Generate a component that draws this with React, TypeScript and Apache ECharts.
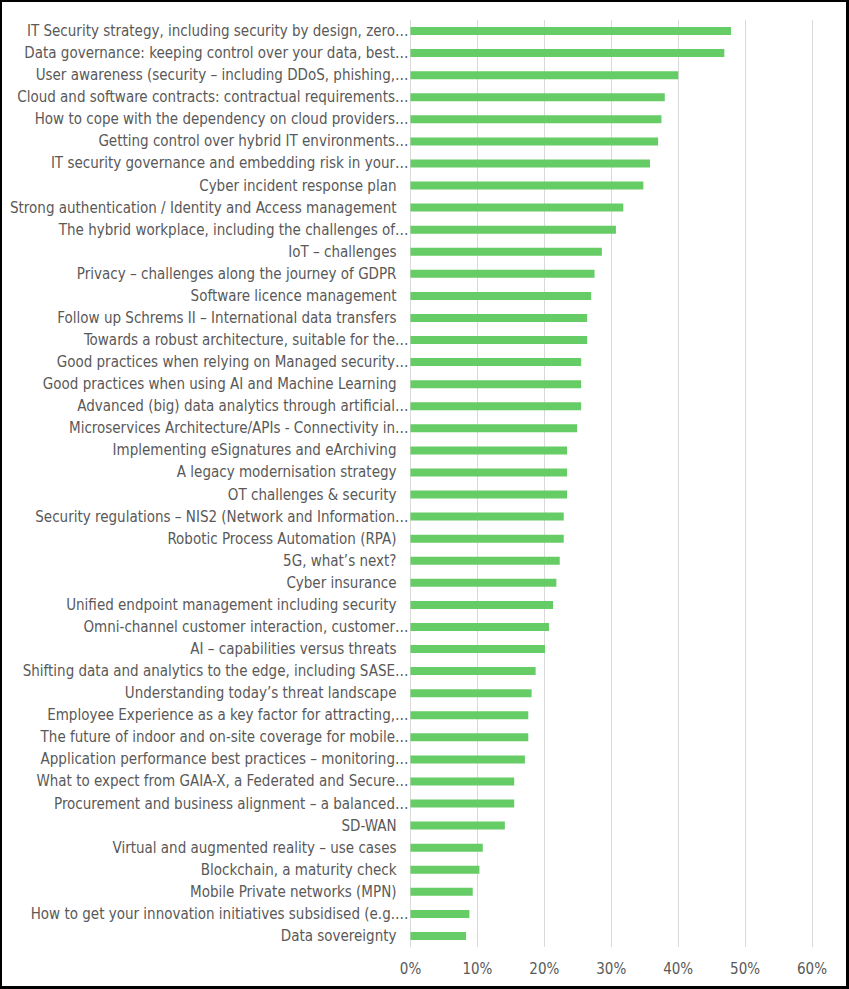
import React, { useEffect, useRef } from "react";
import * as echarts from "echarts";

const categories: string[] = [
  "IT Security strategy, including security by design, zero…",
  "Data governance: keeping control over your data, best…",
  "User awareness (security – including DDoS, phishing,…",
  "Cloud and software contracts: contractual requirements…",
  "How to cope with the dependency on cloud providers…",
  "Getting control over hybrid IT environments…",
  "IT security governance and embedding risk in your…",
  "Cyber incident response plan",
  "Strong authentication / Identity and Access management",
  "The hybrid workplace, including the challenges of…",
  "IoT – challenges",
  "Privacy – challenges along the journey of GDPR",
  "Software licence management",
  "Follow up Schrems II – International data transfers",
  "Towards a robust architecture, suitable for the…",
  "Good practices when relying on Managed security…",
  "Good practices when using AI and Machine Learning",
  "Advanced (big) data analytics through artificial…",
  "Microservices Architecture/APIs - Connectivity in…",
  "Implementing eSignatures and eArchiving",
  "A legacy modernisation strategy",
  "OT challenges & security",
  "Security regulations – NIS2 (Network and Information…",
  "Robotic Process Automation (RPA)",
  "5G, what’s next?",
  "Cyber insurance",
  "Unified endpoint management including security",
  "Omni-channel customer interaction, customer…",
  "AI – capabilities versus threats",
  "Shifting data and analytics to the edge, including SASE…",
  "Understanding today’s threat landscape",
  "Employee Experience as a key factor for attracting,…",
  "The future of indoor and on-site coverage for mobile…",
  "Application performance best practices – monitoring…",
  "What to expect from GAIA-X, a Federated and Secure…",
  "Procurement and business alignment – a balanced…",
  "SD-WAN",
  "Virtual and augmented reality – use cases",
  "Blockchain, a maturity check",
  "Mobile Private networks (MPN)",
  "How to get your innovation initiatives subsidised (e.g.…",
  "Data sovereignty",
];

const shares: number[] = [
  47.9, 46.9, 40.0, 38.0, 37.5, 37.0, 35.8, 34.8, 31.8, 30.7,
  28.6, 27.5, 27.0, 26.4, 26.4, 25.5, 25.5, 25.5, 24.9, 23.4,
  23.4, 23.4, 22.9, 22.9, 22.3, 21.8, 21.3, 20.7, 20.1, 18.7,
  18.1, 17.6, 17.6, 17.1, 15.5, 15.5, 14.1, 10.8, 10.3, 9.3,
  8.8, 8.3,
];

const xTicks: number[] = [0, 10, 20, 30, 40, 50, 60];

export default function App() {
  const ref = useRef<HTMLDivElement>(null);

  useEffect(() => {
    if (!ref.current) return;
    const chart = echarts.init(ref.current, undefined, { renderer: "svg" });
    const font = "'DejaVu Sans Condensed', 'DejaVu Sans', sans-serif";
    chart.setOption({
      animation: false,
      backgroundColor: "#ffffff",
      grid: {
        left: 410.5,
        right: 37,
        top: 20,
        bottom: 42,
        containLabel: false,
        outerBoundsMode: "none",
      },
      xAxis: {
        type: "value",
        min: xTicks[0],
        max: xTicks[xTicks.length - 1],
        interval: 10,
        axisLine: { show: false },
        axisTick: { show: false },
        splitLine: { show: true, lineStyle: { color: "#d9d9d9", width: 1 } },
        axisLabel: {
          formatter: "{value}%",
          color: "#595959",
          fontFamily: font,
          fontSize: 15,
          margin: 14,
        },
      },
      yAxis: {
        type: "category",
        data: categories,
        inverse: true,
        axisLine: { show: true, lineStyle: { color: "#d9d9d9", width: 1 } },
        axisTick: { show: false },
        axisLabel: {
          color: "#595959",
          fontFamily: font,
          fontSize: 15,
          margin: 2,
          interval: 0,
          formatter: (v: string) => (v.endsWith("…") ? `{e|${v}}` : `{p|${v}}`),
          rich: {
            e: { color: "#595959", fontFamily: font, fontSize: 15 },
            p: { color: "#595959", fontFamily: font, fontSize: 15, padding: [0, 12, 0, 0] },
          },
        },
      },
      series: [
        {
          type: "bar",
          data: shares,
          barWidth: 8,
          itemStyle: { color: "#66cc66" },
          silent: true,
        },
      ],
    });
    return () => chart.dispose();
  }, []);

  return (
    <div style={{ position: "fixed", left: 0, top: 0, width: 849, height: 989 }}>
      <div ref={ref} style={{ position: "absolute", left: 0, top: 0, width: 849, height: 989 }} />
      <div
        style={{
          position: "absolute",
          left: 0,
          top: 0,
          width: 849,
          height: 989,
          boxSizing: "border-box",
          borderStyle: "solid",
          borderColor: "#000",
          borderWidth: "2px 3px 3px 2px",
          pointerEvents: "none",
        }}
      />
    </div>
  );
}
